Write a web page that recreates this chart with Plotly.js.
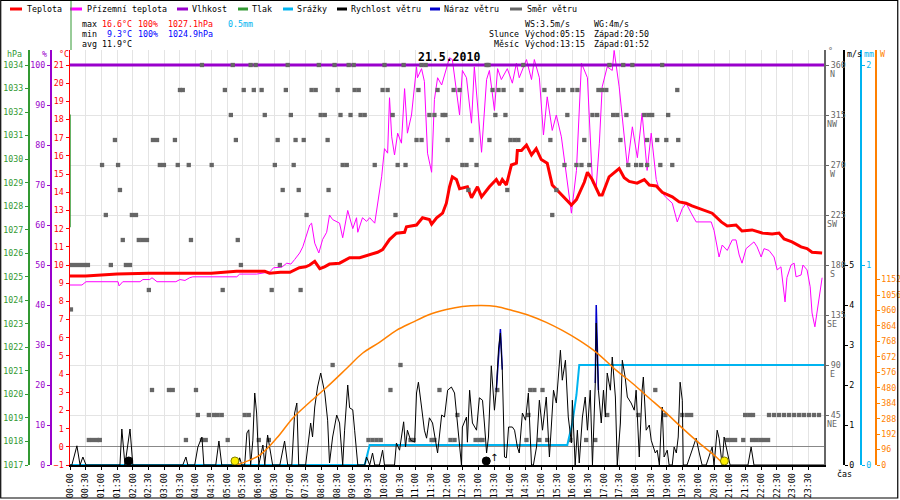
<!DOCTYPE html>
<html><head><meta charset="utf-8">
<script src="https://cdn.plot.ly/plotly-3.0.1.min.js"></script>
<style>html,body{margin:0;padding:0;background:#fff}#c{width:900px;height:500px}</style>
</head><body><div id="c"></div>
<script>
// ---------- DATA (hours of day, values) ----------
const tickHours = [0,0.5,1,1.5,2,2.5,3,3.5,4,4.5,5,5.5,6,6.5,7,7.5,8,8.5,9,9.5,10,10.5,11,11.5,12,12.5,13,13.5,14,14.5,15,15.5,16,16.5,17,17.5,18,18.5,19,19.5,20,20.5,21,21.5,22,22.5,23,23.5];
const tickLabels = ["00:00","00:30","01:00","01:30","02:00","02:30","03:00","03:30","04:00","04:30","05:00","05:30","06:00","06:30","07:00","07:30","08:00","08:30","09:00","09:30","10:00","10:30","11:00","11:30","12:00","12:30","13:00","13:30","14:00","14:30","15:00","15:30","16:00","16:30","17:00","17:30","18:00","18:30","19:00","19:30","20:00","20:30","21:00","21:30","22:00","22:30","23:00","23:30"];

// Teplota (°C)
const tempTimes = [0,0.5,1.0,1.5,2.5,3.5,4.5,5.3,6.2,6.35,6.7,7.0,7.3,7.5,7.63,7.79,7.95,8.1,8.26,8.58,8.9,9.22,9.54,9.79,9.95,10.17,10.39,10.65,10.71,11.03,11.22,11.44,11.51,11.67,11.86,11.98,12.08,12.17,12.3,12.4,12.65,12.78,12.97,13.1,13.35,13.57,13.67,13.76,13.89,14.05,14.21,14.24,14.37,14.53,14.69,14.84,15.0,15.19,15.35,15.58,15.8,15.96,16.12,16.37,16.47,16.62,16.85,16.94,17.16,17.48,17.64,17.8,18.05,18.28,18.44,18.66,18.85,19.17,19.39,19.61,19.8,20.03,20.25,20.44,20.73,20.92,21.2,21.39,21.71,22.03,22.35,22.57,22.73,22.98,23.27,23.46,23.62,23.78,23.94];
const tempValues = [9.4,9.4,9.45,9.5,9.55,9.55,9.55,9.65,9.65,9.55,9.6,9.6,9.85,9.9,10.0,10.2,9.8,9.9,10.05,10.1,10.4,10.4,10.55,10.7,10.85,11.4,11.75,11.8,12.1,12.2,12.6,12.5,12.25,12.6,12.85,13.4,14.3,14.85,14.7,14.2,14.3,13.7,14.3,13.75,14.3,14.7,14.4,14.7,14.4,15.5,15.6,16.3,16.3,16.6,16.05,16.4,15.8,15.6,14.4,14.0,13.6,13.3,13.6,14.55,15.1,14.7,13.85,13.85,14.85,15.3,14.8,14.6,14.5,14.7,14.4,14.35,14.0,13.75,13.47,13.4,13.25,13.1,13.0,12.85,12.37,12.15,12.2,11.87,11.93,11.76,11.7,11.76,11.43,11.27,11.0,10.9,10.7,10.66,10.66];

// Přízemní teplota (°C)
const groundTimes = [0,0.38,0.51,1.53,1.56,1.68,2.23,2.32,2.54,2.61,
 2.77,3.37,3.5,3.66,3.81,3.91,5.31,5.4,5.94,6.2,
 6.36,6.48,6.74,6.9,7.03,7.15,7.31,7.41,7.53,7.63,
 7.69,7.79,7.92,8.04,8.17,8.26,8.36,8.58,8.68,8.84,
 9.0,9.12,9.16,9.31,9.44,9.54,9.7,9.79,9.92,10.01,
 10.11,10.17,10.24,10.33,10.43,10.55,10.65,10.74,10.87,11.03,
 11.06,11.19,11.28,11.38,11.51,11.6,11.7,11.83,11.98,12.08,
 12.17,12.4,12.49,12.62,12.78,12.87,13.1,13.26,13.35,13.51,
 13.61,13.73,13.92,14.08,14.21,14.3,14.53,14.69,14.78,14.94,
 15.07,15.19,15.35,15.48,15.64,15.8,15.96,16.12,16.28,16.47,
 16.63,16.75,16.85,16.94,17.1,17.26,17.32,17.48,17.64,17.74,
 17.9,18.06,18.21,18.37,18.5,18.66,18.76,18.98,19.17,19.33,
 19.49,19.61,19.77,19.93,20.41,20.5,20.66,20.76,20.92,21.08,
 21.2,21.3,21.39,21.52,21.77,21.87,22.0,22.09,22.25,22.41,
 22.51,22.63,22.76,22.82,22.95,23.05,23.11,23.27,23.33,23.46,
 23.56,23.62,23.71,23.78,23.87,23.94];
const groundValues = [8.9,8.9,9.08,9.08,8.85,9.08,9.08,9.2,9.2,9.3,
 9.08,9.08,9.2,9.15,9.3,9.35,9.35,9.5,9.5,9.6,
 9.62,9.85,9.88,10.1,10.05,10.3,10.66,11.0,11.65,12.2,
 12.3,11.2,10.66,11.4,11.8,12.75,12.5,12.3,11.5,13.0,
 12.0,12.6,11.8,12.6,12.4,12.6,12.3,13.4,14.85,16.4,
 16.15,19.2,17.05,16.05,17.25,16.7,19.7,17.25,18.25,20.9,
 20.3,20.8,20.1,16.15,15.1,19.1,20.3,19.9,20.8,21.4,
 21.3,18.25,20.7,20.3,17.8,20.9,16.2,20.2,20.7,18.5,
 20.8,20.2,20.8,20.0,21.1,20.3,21.3,20.2,21.3,20.3,
 17.15,19.25,17.4,18.25,17.05,14.85,12.85,15.2,21.1,20.3,
 14.5,14.3,16.7,19.8,20.9,20.7,21.8,19.8,17.05,15.4,
 17.6,15.9,18.35,15.2,17.25,14.7,14.13,13.7,13.4,12.37,
 13.1,13.4,12.86,12.37,12.37,11.9,10.44,11.1,10.8,11.38,
 11.38,10.55,10.1,10.9,11.27,11.0,10.44,10.9,10.8,10.44,
 9.73,9.9,7.97,9.3,10.0,10.1,9.35,9.45,10.0,9.73,
 8.8,7.36,6.6,7.5,8.6,9.3];

// Vlhkost (%)
const humTimes = [0, 24];
const humValues = [100, 100];

// Tlak (hPa)
const pressTimes = [0, 0];
const pressValues = [1027.1, 1031.9];

// Srážky (mm, cumulative)
const precipTimes = [0, 9.38, 9.54, 15.83, 15.99, 16.12, 16.21, 24];
const precipValues = [0, 0, 0.1, 0.1, 0.21, 0.35, 0.5, 0.5];

// Rychlost větru (m/s)
const windTimes = [0,0.06,0.22,0.32,0.41,0.51,1.59,1.65,1.75,1.91,
 2.0,3.59,3.69,3.75,3.97,4.07,4.2,4.26,4.64,4.74,
 4.83,5.34,5.4,5.47,5.56,5.63,5.69,5.75,5.82,5.88,
 5.94,6.01,6.14,6.2,6.29,6.36,6.45,6.68,6.83,6.93,
 7.06,7.15,7.22,7.28,7.5,7.66,7.72,7.79,7.88,7.98,
 8.11,8.2,8.26,8.36,8.49,8.58,8.68,8.74,8.84,8.9,
 9.0,9.06,9.16,9.38,9.44,9.54,9.63,9.7,9.85,9.95,
 10.01,10.33,10.39,10.49,10.59,10.62,10.68,10.74,10.84,10.97,
 11.03,11.09,11.19,11.28,11.35,11.44,11.54,11.7,11.83,11.92,
 12.02,12.14,12.24,12.33,12.46,12.49,12.62,12.65,12.72,12.81,
 12.94,13.03,13.13,13.19,13.26,13.32,13.41,13.51,13.57,13.64,
 13.7,13.76,13.83,13.89,13.96,14.08,14.15,14.24,14.3,14.4,
 14.5,14.59,14.69,14.75,14.85,14.94,15.04,15.16,15.26,15.32,
 15.39,15.48,15.61,15.67,15.77,15.86,15.96,15.99,16.08,16.15,
 16.21,16.31,16.4,16.47,16.56,16.63,16.72,16.75,16.82,16.91,
 16.98,17.04,17.1,17.2,17.26,17.36,17.42,17.52,17.58,17.67,
 17.74,17.86,17.96,18.02,18.12,18.21,18.25,18.34,18.44,18.5,
 18.63,18.69,18.76,18.82,18.85,18.91,19.01,19.07,19.17,19.23,
 19.3,19.36,19.42,19.49,19.52,19.64,19.77,19.93,20.03,20.12,
 20.25,20.34,20.44,20.5,20.6,20.66,20.76,20.82,20.88,21.01,
 21.58,21.68,21.77,24];
const windValues = [0,0,0.48,0,0.2,0,0,0.9,0,0.9,
 0,0,0.2,0,0,0.45,0.7,0,0,0.6,
 0,0,0.18,0,0,0.8,0.88,0,0.62,1.8,
 1.3,0,0.5,0,0.75,0.45,0,0,0.6,0,
 0,1.3,1.55,0,0,1.05,0.7,1.45,1.95,2.3,
 1.8,1.12,0.05,0.7,1.25,1.05,0,0.87,2.0,1.43,
 1.38,0.87,0,0,0.2,0,0.3,0,0,0.37,
 0,0,0.55,0.37,0.95,1.08,0.45,0.87,0.62,0.57,
 1.8,2.07,1.45,0.87,0.67,1.18,1.05,0.3,1.25,1.2,
 1.87,1.95,1.8,1.05,0,0.95,1.2,0.57,1.87,1.05,
 0.87,1.68,1.62,1.05,0.3,0.7,2.48,1.37,1.87,2.9,
 3.3,2.38,0.2,0.18,0.95,0.95,0.87,0.45,0.3,1.3,
 1.12,1.8,0,0,0.45,1.62,0.87,1.7,0.2,0.95,
 1.87,1.55,2.87,2.12,2.62,1.2,0.55,1.62,0,0.87,
 0.05,1.2,1.7,0.87,1.87,0,2.05,3.55,1.87,1.05,
 1.87,1.2,2.3,1.87,2.7,1.7,0,1.05,2.62,2.2,
 1.7,1.55,1.37,1.87,0.2,1.87,2.2,0.87,1.0,0.62,
 0.3,0.37,0,1.05,1.45,0.2,0.37,0,0,0.45,
 0.3,0.7,2.07,1.62,0,0,0.3,0.67,0.3,0,
 0,0.2,0.45,0,0.87,0.67,0,0.7,0.5,0,
 0,0.45,0,0];

// Náraz větru (m/s) – only where it rises above the speed line
const gustTimes = [13.57, 13.70, 13.76, 14.0, 16.72, 16.75, 16.82];
const gustValues = [1.87, 3.4, 2.38, null, 2.05, 4.0, 1.87];

// Sluneční záření (W)
const solarTimes = [5.31,6.04,6.58,7.09,7.63,8.17,8.81,9.31,9.85,10.39,10.90,11.44,11.98,12.49,13.10,13.57,14.08,14.62,15.16,15.67,16.21,16.75,17.39,17.90,18.44,18.98,19.49,20.03,20.57,20.82];
const solarValues = [0,62,167,291,390,483,601,694,762,836,886,935,966,985,991,985,960,929,886,836,774,700,588,508,415,322,229,136,50,0];

// Směr větru (°) – hours at which each direction was recorded
const dirN   = [4.20,5.18,5.75,5.91,6.93,7.92,8.42,8.87,9.03,10.01,10.62,11.19,11.32,13.26,13.32,14.43,17.17,17.61,17.90,18.85];
const dirNNW = [3.50,3.59,4.93,5.53,5.85,6.10,6.87,7.69,7.82,8.52,9.06,9.19,9.95,10.11,11.09,11.70,12.21,12.40,13.45,13.64,13.80,14.37,15.10,15.54,15.70,15.99,16.15,16.82,16.94,17.07,19.33];
const dirNW  = [5.12,6.20,7.03,7.98,8.11,8.61,8.93,9.25,9.38,10.27,11.44,11.60,11.86,11.95,13.54,13.86,15.83,16.63,16.78,17.29,17.42,17.71,18.28,18.41,18.53,19.04];
const dirWNW = [1.43,2.64,2.77,3.34,5.28,6.61,7.18,7.44,8.20,11.03,11.19,12.02,12.78,13.35,14.02,14.15,14.27,15.29,16.37,17.52,18.37,18.69,18.98,19.36];
const dirW   = [1.02,1.53,2.86,2.99,3.43,3.78,4.51,6.52,7.12,8.68,8.81,9.70,10.43,10.68,12.49,12.62,12.94,15.74,16.12,16.28,16.53,17.77,18.02,18.18,18.37,18.79,19.17];
const dirWSW = [1.59,6.77,7.28,8.23,12.68,13.92,15.48];
const dirSW  = [1.14,1.97,2.10,7.53,10.36,15.35];
const dirSSW = [1.68,2.19,2.32,2.45,3.85,5.34];
const dirS   = [0.06,0.19,0.32,0.45,0.57,1.30,1.78,1.91,5.44,6.68];
const dirSSE = [2.51,4.86,6.42,7.34];
const dirSE  = [0.03];
const dirE   = [8.36,10.52];
const dirENE = [2.61,3.15,3.27,4.01,10.20,11.76,13.60,14.65,14.78,15.04,18.63];
const dirNE  = [4.07,4.42,4.58,4.70,4.83,5.56,5.69,12.33,14.59,17.10,18.09,18.95,19.49,19.64,19.77,21.49,21.62,21.74,22.25,22.41,22.57,22.73,22.89,23.05,23.21,23.36,23.52,23.68,23.84];
const dirNNE = [0.60,0.73,0.86,0.95,3.69,4.20,4.32,5.02,6.01,6.33,9.50,9.63,9.76,9.89,10.84,10.94,11.51,11.60,12.11,12.24,12.91,13.03,13.13,14.53,14.94,15.19,15.93,16.43,16.72,20.92,21.04,21.17,21.43,21.71,21.84,21.97,22.09,22.22];
const dirGroups = [[360,dirN],[337.5,dirNNW],[315,dirNW],[292.5,dirWNW],[270,dirW],[247.5,dirWSW],[225,dirSW],[202.5,dirSSW],[180,dirS],[157.5,dirSSE],[140,dirSE],[90,dirE],[67.5,dirENE],[45,dirNE],[22.5,dirNNE]];

// Slunce / Měsíc events (hours)
const sunEvents = [5.25, 20.83];
const moonEvents = [1.87, 13.25];

// Axis ticks
const tempTicks = [-1,0,1,2,3,4,5,6,7,8,9,10,11,12,13,14,15,16,17,18,19,20,21];
const humTicks = [0,10,20,30,40,50,60,70,80,90,100];
const pressTicks = [1017,1018,1019,1020,1021,1022,1023,1024,1025,1026,1027,1028,1029,1030,1031,1032,1033,1034];
const dirTicks = [45,90,135,180,225,270,315,360];
const dirNames = ["NE","E","SE","S","SW","W","NW","N"];
const windTicks = [0,1,2,3,4,5];
const precipTicks = [0,1,2];
const solarTicks = [0,96,192,288,384,480,576,672,768,864,960,1056,1152];

// ---------- BUILD ----------
const F = 'DejaVu Sans Mono, monospace';
const FS = 8.3;
const C = {temp:'#ff0000', ground:'#ff00ff', hum:'#9900cc', press:'#339933', rain:'#00b4f0', wind:'#000000', gust:'#0000cc', dir:'#666666', sun:'#ff8000'};
const px = x => x/900, py = y => 1 - y/500;
const xDom = [px(70), px(824)];
const yDom = [py(465), py(50)];

const dirX = [], dirY = [];
dirGroups.forEach(([deg, hrs]) => hrs.forEach(h => { dirX.push(h); dirY.push(deg); }));

// axis ids: y=°C, y2=%, y3=hPa, y4=°, y5=mm, y6=m/s, y7=W
const traces = [
  {x:pressTimes, y:pressValues, yaxis:'y3', mode:'lines', line:{color:C.press, width:1.5}},
  {x:humTimes, y:humValues, yaxis:'y2', mode:'lines', line:{color:C.hum, width:3}},
  {x:groundTimes, y:groundValues, yaxis:'y', mode:'lines', line:{color:C.ground, width:1}},
  {x:tempTimes, y:tempValues, yaxis:'y', mode:'lines', line:{color:C.temp, width:3}},
  {x:dirX, y:dirY, yaxis:'y4', mode:'markers', marker:{symbol:'square', size:4.3, color:C.dir}},
  {x:precipTimes, y:precipValues, yaxis:'y5', mode:'lines', line:{color:C.rain, width:2}},
  {x:gustTimes, y:gustValues, yaxis:'y6', mode:'lines', connectgaps:false, line:{color:C.gust, width:1.5}},
  {x:windTimes, y:windValues, yaxis:'y6', mode:'lines', line:{color:C.wind, width:1}},
  {x:solarTimes, y:solarValues, yaxis:'y7', mode:'lines', line:{color:C.sun, width:1.5, shape:'spline'}},
  {x:sunEvents, y:sunEvents.map(()=>25), yaxis:'y7', mode:'markers', marker:{symbol:'circle', size:8, color:'#ffee00', line:{color:'#808000', width:1}}},
  {x:moonEvents, y:moonEvents.map(()=>25), yaxis:'y7', mode:'markers', marker:{symbol:'circle', size:8, color:'#000', line:{color:'#000', width:1}}}
];
traces.forEach(t => { t.xaxis = 'x'; t.hoverinfo = 'skip'; t.showlegend = false; });

function yax(o){
  return Object.assign({domain:yDom, showgrid:false, zeroline:false, showline:true, ticks:'outside', ticklen:3, fixedrange:true,
    tickmode:'array', tickfont:{family:F, size:FS, color:o.linecolor}, tickcolor:o.linecolor}, o);
}

const annotations = [];
function txt(x, y, text, color, extra){
  annotations.push(Object.assign({xref:'paper', yref:'paper', x:px(x), y:py(y), text:text, showarrow:false,
    xanchor:'left', yanchor:'middle', font:{family:F, size:FS, color:color||'#000'}}, extra||{}));
}
// legend texts
txt(25,9,'Teplota'); txt(85,9,'Přízemní teplota'); txt(190,9,'Vlhkost'); txt(250,9,'Tlak');
txt(295,9,'Srážky'); txt(349,9,'Rychlost větru'); txt(442,9,'Náraz větru'); txt(525,9,'Směr větru');
// statistics
txt(80,24,'max'); txt(100,24,'16.6°C',C.temp); txt(136,24,'100%',C.temp); txt(166,24,'1027.1hPa',C.temp); txt(226,24,'0.5mm',C.rain);
txt(80,34,'min'); txt(105,34,'9.3°C','#0000ff'); txt(136,34,'100%','#0000ff'); txt(166,34,'1024.9hPa','#0000ff');
txt(80,44,'avg'); txt(100,44,'11.9°C');
txt(523,24,'WS:3.5m/s'); txt(592,24,'WG:4m/s');
txt(487,34,'Slunce'); txt(523,34,'Východ:05:15'); txt(592,34,'Západ:20:50');
txt(492,44,'Měsíc'); txt(523,44,'Východ:13:15'); txt(592,44,'Západ:01:52');
// axis titles
txt(5,54,'hPa',C.press); txt(40,54,'%',C.hum); txt(57,54,'°C',C.temp);
txt(826,51,'°',C.dir); txt(845,54,'m/s','#000'); txt(862,54,'mm',C.rain); txt(878,54,'W',C.sun);
txt(835,474,'čas','#000');
// date title
txt(449,57,'<b>21.5.2010</b>','#000',{xanchor:'center', font:{family:F, size:11.5, color:'#000'}});
// compass names
dirTicks.forEach((d,i) => annotations.push({xref:'paper', yref:'y4', x:px(832), y:d, yshift:-9, text:dirNames[i], showarrow:false,
  xanchor:'center', yanchor:'middle', font:{family:F, size:FS, color:C.dir}}));
// moonrise arrow
annotations.push({xref:'x', yref:'y7', x:moonEvents[1], y:45, xshift:8, text:'↑', showarrow:false, font:{family:'DejaVu Sans', size:10, color:'#000'}});

const shapes = [];
function lg(x0, x1, color){ shapes.push({type:'line', xref:'paper', yref:'paper', x0:px(x0), x1:px(x1), y0:py(9), y1:py(9), line:{color:color, width:3}}); }
lg(10,22,C.temp); lg(70,82,C.ground); lg(177,188,C.hum); lg(238,248,C.press); lg(283,293,C.rain); lg(337,347,C.wind); lg(430,440,C.gust); lg(510,522,C.dir);
shapes.push({type:'line', xref:'paper', yref:'paper', x0:px(71), x1:px(71), y0:py(0), y1:py(50), line:{color:C.press, width:1}});
shapes.push({type:'rect', xref:'paper', yref:'paper', x0:0.0008, x1:0.9975, y0:0.004, y1:0.999, line:{color:'#000', width:1.2}});

const layout = {
  width:900, height:500, margin:{l:0, r:0, t:0, b:0, pad:0},
  paper_bgcolor:'#fff', plot_bgcolor:'#fff', showlegend:false,
  xaxis:{domain:xDom, range:[0,24], tickmode:'array', tickvals:tickHours, ticktext:tickLabels, tickangle:-90,
    tickfont:{family:F, size:FS, color:'#000'}, showgrid:true, gridcolor:'#e4e4e4', gridwidth:1,
    showline:true, linecolor:'#000', linewidth:2, ticks:'outside', ticklen:3, tickcolor:'#000', zeroline:false, fixedrange:true},
  yaxis: yax({range:[-1,21.825], tickvals:tempTicks, linecolor:C.temp, linewidth:1.5, zeroline:true, zerolinecolor:'#888', zerolinewidth:1, layer:'below traces'}),
  yaxis2: yax({overlaying:'y', anchor:'free', position:px(50), side:'left', range:[0,103.75], tickvals:humTicks, linecolor:C.hum, linewidth:1.5}),
  yaxis3: yax({overlaying:'y', anchor:'free', position:px(28), side:'left', range:[1017,1034.6375], tickvals:pressTicks, linecolor:C.press, linewidth:1.5}),
  yaxis4: yax({overlaying:'y', anchor:'x', side:'right', range:[0,373.5], tickvals:dirTicks, linecolor:C.dir, linewidth:2, showgrid:true, gridcolor:'#e4e4e4', gridwidth:1}),
  yaxis5: yax({overlaying:'y', anchor:'free', position:px(860), side:'right', range:[0,2.075], tickvals:precipTicks, linecolor:C.rain, linewidth:1.5}),
  yaxis6: yax({overlaying:'y', anchor:'free', position:px(843), side:'right', range:[0,10.375], tickvals:windTicks, linecolor:'#000', linewidth:1.5}),
  yaxis7: yax({overlaying:'y', anchor:'free', position:px(875), side:'right', range:[0,2578], tickvals:solarTicks, linecolor:C.sun, linewidth:1.5}),
  annotations: annotations, shapes: shapes
};

Plotly.newPlot('c', traces, layout, {staticPlot:true, displayModeBar:false});
</script></body></html>
